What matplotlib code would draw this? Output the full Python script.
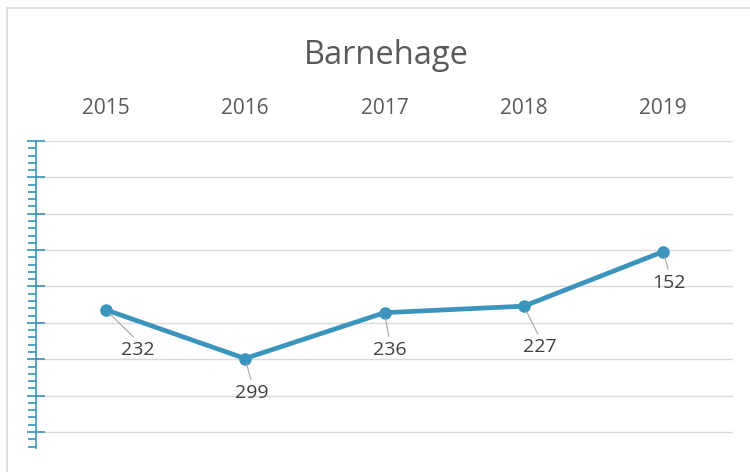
import matplotlib
matplotlib.use("Agg")
import matplotlib.pyplot as plt
from matplotlib.patches import Rectangle
from matplotlib.ticker import MultipleLocator

years = ["2015", "2016", "2017", "2018", "2019"]
values = [232, 299, 236, 227, 152]
title = "Barnehage"
# label offsets (points) from each data point
label_dx = [23, 5, 3.6, 11.5, 4.3]
label_dy = [-29, -24.5, -26.6, -29.5, -22.3]

plt.rcParams['font.family'] = ['Open Sans', 'DejaVu Sans']

fig = plt.figure(figsize=(7.5, 4.72), dpi=100)
fig.patches.append(Rectangle((7/750, -0.1), 760/750, 1 - 8/472 + 0.1, transform=fig.transFigure,
                             fill=False, edgecolor='#D9D9D9', lw=1.2))
ax = fig.add_axes([36/750, 1 - 448/472, (733 - 36)/750, (448 - 141)/472])

line_color = '#3A94BC'
x = list(range(len(years)))
ax.plot(x, values, color=line_color, lw=3.4, marker='o', ms=8, solid_capstyle='round', zorder=3)

ax.set_xlim(-0.5, len(years) - 0.5)
ax.set_ylim(422, 0)
ax.yaxis.set_major_locator(MultipleLocator(50))
ax.yaxis.set_minor_locator(MultipleLocator(10))
ax.grid(axis='y', which='major', color='#D9D9D9', lw=1)
ax.set_axisbelow(True)

for s in ['top', 'right', 'bottom']:
    ax.spines[s].set_visible(False)
ax.spines['left'].set_color(line_color)
ax.spines['left'].set_linewidth(1.2)
ax.tick_params(axis='y', which='major', direction='inout', length=13, width=1.2, color=line_color, labelleft=False)
ax.tick_params(axis='y', which='minor', direction='out', length=6, width=1.2, color=line_color)

ax.xaxis.tick_top()
ax.set_xticks(x)
ax.set_xticklabels(years)
ax.tick_params(axis='x', length=0, pad=16, labelsize=15, labelcolor='#595959')

for i, v in enumerate(values):
    ax.annotate(str(v), xy=(i, v), xytext=(label_dx[i], label_dy[i]), textcoords='offset points',
                ha='center', va='center', fontsize=14, color='#404040',
                arrowprops=dict(arrowstyle='-', color='#A6A6A6', lw=0.8, shrinkA=1, shrinkB=4,
                                relpos=(0.5, 1.0)), zorder=4)

fig.text(386/750, 1 - 55/472, title, ha='center', va='center', fontsize=23.5, color='#595959')

fig.savefig('out.png', dpi=100)
